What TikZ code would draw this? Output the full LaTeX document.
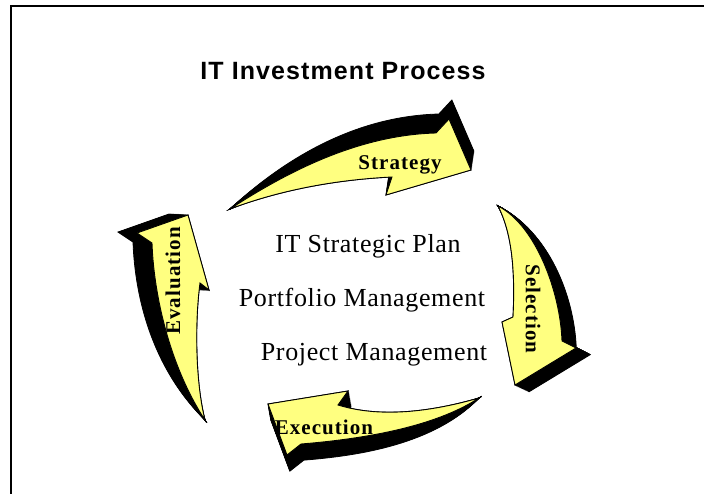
\documentclass[tikz,border=0pt]{standalone}
\usepackage{fontspec}
\setmainfont{Liberation Serif}[LetterSpace=2.5]
\newfontfamily\labelfont{Liberation Serif}[LetterSpace=5]
\newfontfamily\headfont{Liberation Sans}[LetterSpace=4.4]
\definecolor{cycleyellow}{RGB}{255,255,128}

\begin{document}
\begin{tikzpicture}[x=1pt, y=-1pt,
    every node/.style={font=\fontsize{26}{28}\selectfont},
    steplabel/.style={font=\labelfont\fontsize{21}{23}\selectfont\bfseries},
    face/.style={fill=cycleyellow, draw=black, line width=0.9pt, line join=miter},
    depth/.style={fill=black, draw=black, line width=0.8pt}]
    \useasboundingbox (0,0) rectangle (704,494);

    % Frame
    \draw[line width=2pt] (11,494) -- (11,6) -- (704,6);

    % Title
    \node[anchor=base, font=\headfont\bfseries\fontsize{25}{27}\selectfont] (title) at (343,80) {IT Investment Process};

    % Arrow tails
    \coordinate (st) at (230,209);
    \coordinate (se) at (498,206);
    \coordinate (ex) at (479,398);
    \coordinate (ev) at (205,420);

    % Strategy
    \foreach \k in {0,0.05,...,1}
        \filldraw[depth, shift={(3*\k,-20*\k)}] (st) .. controls (290,170) and (360,135) .. (436,133) -- (449,119) -- (471,170) -- (386,195) -- (392,177) .. controls (330,180) and (275,192) .. (st) -- cycle;
    \draw[face] (st) .. controls (290,170) and (360,135) .. (436,133) -- (449,119) -- (471,170) -- (386,195) -- (392,177) .. controls (330,180) and (275,192) .. (st) -- cycle;
    \node[steplabel, anchor=base] (strategy) at (400,170) {Strategy};

    % Selection
    \foreach \k in {0,0.05,...,1}
        \filldraw[depth, shift={(15*\k,7*\k)}] (se) .. controls (535,225) and (560,290) .. (562,341) -- (576,348) -- (515,385) -- (502,322) -- (513,317) .. controls (515,275) and (513,235) .. (se) -- cycle;
    \draw[face] (se) .. controls (535,225) and (560,290) .. (562,341) -- (576,348) -- (515,385) -- (502,322) -- (513,317) .. controls (515,275) and (513,235) .. (se) -- cycle;
    \node[steplabel, rotate=-90] (selection) at (533,309) {Selection};

    % Execution
    \foreach \k in {0,0.05,...,1}
        \filldraw[depth, shift={(3*\k,17*\k)}] (ex) .. controls (430,412) and (380,418) .. (338,405) -- (348,391) -- (268,404) -- (287,455) -- (301,444) .. controls (350,440) and (430,430) .. (ex) -- cycle;
    \draw[face] (ex) .. controls (430,412) and (380,418) .. (338,405) -- (348,391) -- (268,404) -- (287,455) -- (301,444) .. controls (350,440) and (430,430) .. (ex) -- cycle;
    \node[steplabel, anchor=base] (execution) at (324,434) {Execution};

    % Evaluation
    \foreach \k in {0,0.05,...,1}
        \filldraw[depth, shift={(-20*\k,-\k)}] (ev) .. controls (195,380) and (195,320) .. (200,283) -- (209,290) -- (188,215) -- (137,233) -- (152,243) .. controls (154,300) and (172,370) .. (ev) -- cycle;
    \draw[face] (ev) .. controls (195,380) and (195,320) .. (200,283) -- (209,290) -- (188,215) -- (137,233) -- (152,243) .. controls (154,300) and (172,370) .. (ev) -- cycle;
    \node[steplabel, rotate=90] (evaluation) at (173,281) {Evaluation};

    % Centre text
    \node[anchor=base] (plan) at (368,253) {IT Strategic Plan};
    \node[anchor=base] (portfolio) at (362,307) {Portfolio Management};
    \node[anchor=base] (project) at (374,360) {Project Management};
\end{tikzpicture}
\end{document}
